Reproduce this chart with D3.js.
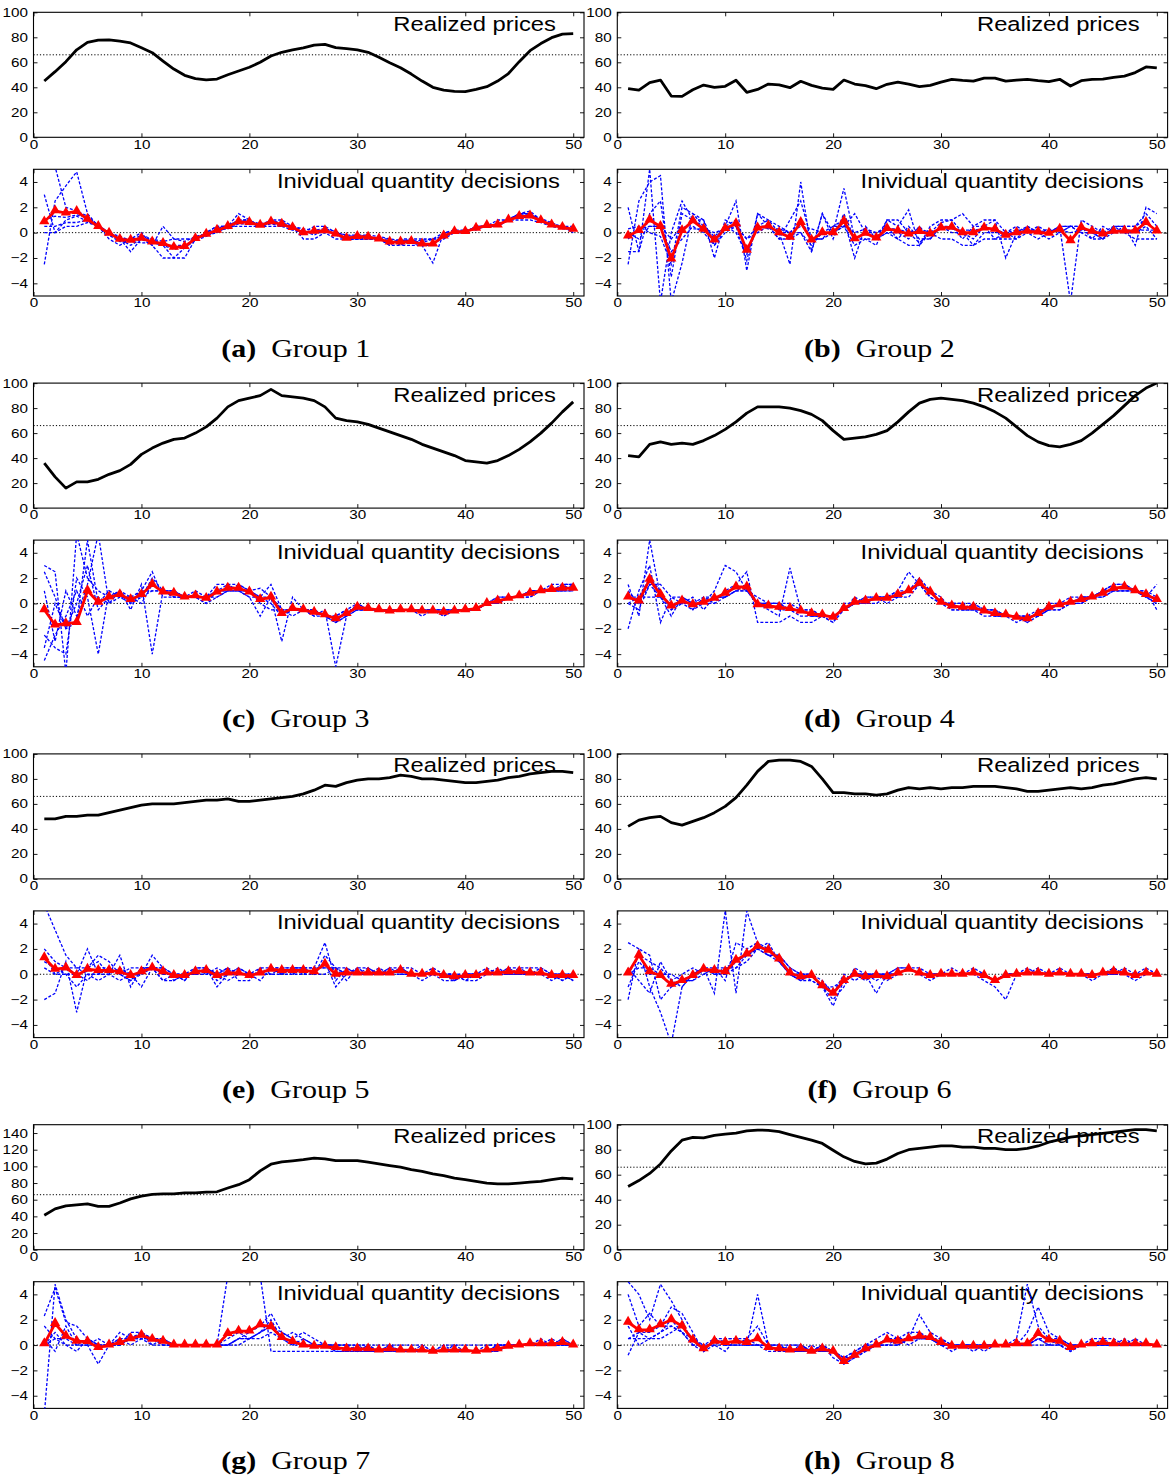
<!DOCTYPE html>
<html>
<head>
<meta charset="utf-8">
<script src="https://cdn.jsdelivr.net/npm/d3@7"></script>
<style>
  body { margin: 0; background: #fff; }
</style>
</head>
<body>
<svg id="fig" width="1175" height="1476"></svg>
<script>
// periods, ticks and reference level
const periods = d3.range(1, 51);
const equilibriumPrice = 66;
const timeTicks = [0, 10, 20, 30, 40, 50];
const priceTicks = [0, 20, 40, 60, 80, 100];
const priceTicksWide = [0, 20, 40, 60, 80, 100, 120, 140];
const quantityTicks = [-4, -2, 0, 2, 4];
const captionLetters = ["(a)", "(b)", "(c)", "(d)", "(e)", "(f)", "(g)", "(h)"];
const groupNames = ["Group 1", "Group 2", "Group 3", "Group 4", "Group 5", "Group 6", "Group 7", "Group 8"];

// realized prices per group
const price1 = [45,52.5,60.5,70,76,77.8,78,77,75.5,71.7, 67.7,61,54.6,49.6,47,46,46.6,50,53,56, 60,65,68,70,71.5,73.8,74.4,71.7,71,70, 68,64,59.7,55.7,50.6,45,40,37.8,36.8,36.6, 38.4,40.5,45,51,60.5,69.3,75,79.7,82.6,82.9];
const price2 = [39,37.8,43.7,45.8,33,32.7,38,41.8,40,40.8, 45.6,36,38.3,42.6,42,39.7,44.8,41.5,39.4,38.3, 45.8,42.6,41.3,38.9,42.4,44.2,42.6,40.5,41.5,44.2, 46.4,45.6,45,47.4,47.4,45,45.8,46.4,45.3,44.5, 46.4,41,45.3,46.4,46.6,48,49,51.8,56.3,55.5];
const price3 = [36,25,16,21,21,23,27,30,35,43, 48,52,55,56,60,65,72,81,86,88, 90,95,90,89,88,86,81,72,70,69, 67,64,61,58,55,51,48,45,42,38, 37,36,38,42,47,53,60,68,77,85];
const price4 = [42,41,51,53,51,52,51,54,58,63, 69,76,81,81,81,80,78,75,70,62, 55,56,57,59,62,69,77,84,87,88, 87,86,84,81,77,72,65,58,53,50, 49,51,54,60,67,74,82,90,96,100];
const price5 = [48,48,50,50,51,51,53,55,57,59, 60,60,60,61,62,63,63,64,62,62, 63,64,65,66,68,71,75,74,77,79, 80,80,81,83,82,80,80,79,78,77, 77,78,79,81,82,84,85,86,86,85];
const price6 = [42,47,49,50,45,43,46,49,53,58, 65,75,86,94,95,95,94,90,80,69, 69,68,68,67,68,71,73,72,73,72, 73,73,74,74,74,73,72,70,70,71, 72,73,72,73,75,76,78,80,81,80];
const price7 = [41.4,49,52.5,53.7,55,52,52,56,61,64.3, 66.3,67,67,68.3,68.3,69,69.5,74,78,84, 94.6,102.6,105.3,106.7,108,110,109,107,107,107, 105,103,101,99,96,94,91,89,86,84, 82,80,79,79,80,81,82,84,86,85];
const price8 = [50.5,55.3,61,68.6,79,87.6,89.8,89.5,91.4,92.5, 93.3,95,95.7,95.5,94.4,92,89.8,87.6,85,79.6, 74.3,70.6,68.6,69.3,72.5,77,80,81,82,83, 83,82,82,81,81,80,80,81,83,86, 88,90,91,92,93,94,95,96,96,95];

// mean quantity decision (red, triangles)
const mean1 = [0.85,1.72,1.54,1.67,1.06,0.48,-0.05,-0.53,-0.6,-0.45, -0.74,-0.85,-1.16,-1.1,-0.47,-0.13,0.19,0.48,0.85,0.8, 0.58,0.85,0.66,0.4,0,0.1,0.15,-0.1,-0.45,-0.3, -0.35,-0.5,-0.74,-0.74,-0.7,-0.9,-0.9,-0.26,0.08,0.08, 0.35,0.56,0.6,1.0,1.27,1.32,0.95,0.6,0.42,0.27];
const mean2 = [-0.27,0.16,1.0,0.48,-2.08,0.16,0.93,0.27,-0.59,0.32, 0.7,-1.39,0.37,0.53,0,-0.37,0.8,-0.59,0,0, 0.9,-0.48,-0.05,-0.43,0.32,0.13,-0.1,0.08,-0.1,0.37, 0.43,0,0,0.37,0.27,-0.21,0,0.1,0.05,-0.05, 0.27,-0.64,0.4,0.1,-0.1,0.1,0.13,0.13,0.8,0.13];
const mean3 = [-0.5,-1.7,-1.6,-1.5,1.0,0.1,0.5,0.7,0.3,0.7, 1.5,0.9,0.8,0.5,0.6,0.4,0.9,1.2,1.2,0.9, 0.3,0.5,-0.8,-0.4,-0.5,-0.7,-0.9,-1.2,-0.8,-0.3, -0.4,-0.5,-0.6,-0.5,-0.5,-0.6,-0.6,-0.7,-0.6,-0.5, -0.4,0,0.2,0.4,0.6,0.8,1.0,1.1,1.2,1.2];
const mean4 = [0.5,0.2,1.9,0.7,-0.2,0.2,-0.1,0.1,0.4,0.8, 1.3,1.3,-0.1,-0.2,-0.3,-0.4,-0.6,-0.8,-0.9,-1.1, -0.4,0.1,0.2,0.4,0.4,0.7,1.0,1.6,0.9,0.1, -0.2,-0.3,-0.3,-0.6,-0.8,-0.9,-1.1,-1.2,-0.8,-0.3, -0.1,0.1,0.3,0.5,0.8,1.2,1.3,1.0,0.7,0.3];
const mean5 = [1.3,0.4,0.5,-0.1,0.4,0.3,0.3,0.2,-0.1,0.2, 0.5,0.2,-0.1,-0.1,0.2,0.3,-0.1,0.1,0.1,-0.1, 0.1,0.4,0.3,0.3,0.3,0.2,0.8,0,0.1,0.1, 0.1,0.1,0.1,0.3,0,0,0.1,-0.1,-0.2,-0.1, -0.1,0.1,0.1,0.2,0.2,0.1,0.1,-0.1,-0.1,-0.1];
const mean6 = [0.1,1.5,0.2,-0.1,-0.8,-0.5,-0.1,0.4,0.3,0.2, 1.1,1.6,2.2,1.9,1.2,0.1,-0.2,-0.1,-0.9,-1.5, -0.5,0,-0.2,-0.1,-0.2,0.1,0.4,0.1,-0.1,0, 0,0,0.1,-0.1,-0.5,-0.1,0,0.1,0.1,0, 0.1,0,0,-0.1,0.1,0.2,0.1,-0.1,0.1,0];
const mean7 = [0.1,1.7,0.7,0.3,0.27,-0.2,0,0.2,0.5,0.77, 0.45,0.3,0,0,0,0,0,0.9,1.1,1.1, 1.6,1.45,0.6,0.27,0,-0.1,-0.1,-0.2,-0.3,-0.3, -0.3,-0.4,-0.3,-0.4,-0.4,-0.4,-0.5,-0.4,-0.4,-0.4, -0.5,-0.4,-0.3,-0.1,0,0.1,0.1,0.1,0.2,0];
const mean8 = [1.8,1.2,1.2,1.6,2.0,1.5,0.4,-0.3,0.3,0.2, 0.3,0.2,0.5,-0.2,-0.3,-0.4,-0.3,-0.5,-0.3,-0.5, -1.3,-0.8,-0.3,0,0.4,0.3,0.5,0.7,0.6,0.2, -0.1,-0.1,-0.1,-0.1,0,0,0.1,0.1,0.9,0.4, 0.3,-0.2,0,0.1,0.2,0.1,0.1,0.1,0.1,0];

// individual quantity decisions (blue dashed), six subjects per group
const indiv1 = [
  [3,0,0.5,0.5,0.8,0.5,0,-0.5,-1.5,-0.5, -0.5,-1,-1,-1,-0.5,0,0.5,0.5,1,1, 0.5,1,0.5,0.5,0,0,0,-0.5,-0.5,-0.5, -0.5,-0.5,-1,-0.5,-0.5,-1,-1,0,0,0, 0.5,0.5,0.5,1,1.5,1.5,1,0.5,0.5,0.5],
  [-2.5,2.5,3.7,4.8,1.5,0.5,0,-0.5,-1,-0.5, -1,0.5,-0.5,-0.5,-0.5,0,0.5,0.5,1,1, 0.5,1,1,0.5,0,0.5,0.5,0,-0.5,-0.5, -0.5,-0.5,-0.5,-1,-1,-1,-2.4,0,0,0, 0.5,0.5,1,1,1.5,1.5,1,0.5,0.5,0],
  [5.5,5.2,2,1.7,1.3,0.5,-0.5,-1,-0.5,-0.5, -0.5,-1,-2,-2,-0.5,0,0,0.5,1.5,1, 0.5,0.5,0.5,0.5,-0.5,-0.5,0,0,-0.5,-0.5, -0.5,-0.5,-1,-1,-0.5,-0.5,-0.5,-0.5,0,0, 0.5,0.5,0.5,1,1.5,1.7,1,0.5,0.5,0],
  [0,0,1,1.3,0.9,0.5,0,-0.5,-0.5,0, -1,-2,-2,-1.2,-0.5,-0.2,0,0.5,0.5,0.5, 0.5,0.7,0.5,0.2,0,0,0.2,0,-0.2,-0.2, -0.3,-0.5,-0.7,-0.6,-0.7,-0.6,-0.5,-0.3,0,0.2, 0.2,0.6,0.6,1,1,1,0.8,0.5,0.3,0.3],
  [0.5,0.5,0.8,0.8,1,0.5,-0.2,-0.7,-0.7,-0.8, -0.8,-1,-1.3,-1.2,-0.6,-0.3,0.2,0.3,0.7,0.7, 0.5,0.8,0.6,0.5,0.2,-0.2,0.3,-0.2,-0.5,-0.3, -0.3,-0.5,-0.8,-0.8,-0.8,-1,-1,-0.3,0.1,0.1, 0.3,0.5,0.6,1,1.2,1.2,1,0.7,0.5,0.2],
  [1,1.3,1.2,1.4,1.2,0.6,0,-0.3,-0.6,-0.2, -0.5,-0.7,-0.5,-0.7,-0.3,-0.1,0.3,0.6,0.9,0.9, 0.7,0.9,0.8,0.5,0.3,0.2,0.3,0.1,-0.3,-0.2, -0.2,-0.3,-0.5,-0.6,-0.6,-0.8,-0.5,0,0.2,0.2, 0.4,0.6,0.7,1.1,1.4,1.4,1.1,0.8,0.4,0.4]
];
const indiv2 = [
  [2,-1.5,5,-5.5,0,2.5,1,0.5,-0.5,0.5, 2.5,-3,1.5,1,0,-2.5,4,-1.5,1.5,0, 3.5,-0.5,-0.5,-1,1,0.5,1.8,-1,0.5,1, 1,1.5,0.5,1,1,-2,0,0.5,0,0, 0.5,-5.5,1,0.5,0,0.5,0.5,-1,2,1.5],
  [-2.5,2.5,4,4.5,-5.5,-2.4,1.5,1,-2,1, 0.5,-2.2,1.5,0.5,-0.5,1,2.5,-0.5,-0.5,0.5, 1,-2,0.5,-0.5,1,1,0,-0.8,0,0.8, 1,0,-0.5,0.5,1,0,-0.5,0,0.5,0, 0.5,0.5,0.5,0,-0.5,0.5,0.5,0.5,1.5,0.5],
  [-1.5,-1.5,1.5,2.5,-3.5,1.5,1,1,-1,0.5, 0,-1.7,0.5,0.5,0,0,0,-1.5,1.5,-0.5, 1.5,-0.5,0,0,0.5,-0.5,0.5,-0.5,-0.5,0.5, 0.5,-0.5,0.5,0.5,-0.5,-0.5,-0.5,0.5,0,-0.5, 0,0.5,0,-0.5,0.5,0,0.5,0.5,1,0],
  [0.3,0.5,0,-0.3,-2.5,2,1.5,0.5,-0.3,0.5, 1,-1.5,0.5,1,0.5,0,1,-0.5,-0.5,0, 0.5,-1,-0.5,-0.5,0,0,-0.5,0.5,-0.5,0.5, 0,0,-1,0,0,0,0,0,-0.5,0, 0.5,0.5,0,0,-0.5,0,0,0,0.5,-0.5],
  [0,-0.5,0.5,0.5,-1.5,-0.5,0.5,0,-1,0, 0.5,-0.5,0,0.5,-0.5,-0.5,0,-1,0,0.5, 0.5,1.5,0,-0.5,0,-0.5,-1,-1,0,-0.5, -0.5,-1,-1,-0.5,-0.5,0,0.5,0,0,0.3, 0,0.5,0.5,-0.5,-0.5,0.5,0,-0.5,-0.5,-0.5],
  [-0.5,0.3,0.5,0.5,-0.5,0.5,0.3,0.3,0,0.3, 0.5,-0.5,0.5,0.3,0.3,0,0.5,0.3,0,0, 0.5,0,0.3,0,0.3,0.3,0,0.3,0,0.3, 0.3,0.2,0.2,0.3,0.2,0,0.2,0.2,0.2,0, 0.2,0,0.2,0.2,0,0.2,0.2,0.2,0.2,0.2]
];
const indiv3 = [
  [3,2.5,-5.5,5.5,2,1,0.5,1,0,1, 1,1,1,0.5,1,0.5,1.5,1.5,1,1, 0.5,1.5,-0.5,-0.5,-0.5,-0.5,-1,-1,-0.5,-0.5, -0.5,-0.5,-0.5,-0.5,-0.5,-0.5,-0.5,-0.5,-0.5,-0.5, -0.5,0,0.5,0.5,0.5,1,1,1,1.5,1.5],
  [1,-3,1,-1,1.5,5.5,0,1,-0.5,1.5, -4,1,1,0.5,0.5,0,1,1,1.5,1, 1.2,0.5,-3,0.5,-0.5,-1,-0.5,-5,-1,0, -0.5,-0.5,-0.5,-0.5,-0.5,-1,-0.5,-1,-0.5,-0.5, -0.5,0,0,0.5,0.5,1,1,1,1.5,1],
  [-2.5,-3.5,-4,2,0.5,-4,1,0.5,0.5,1, 2.5,0.5,0.5,0.5,0.5,0.5,1,1.5,1.5,1, 0,-0.5,-0.5,-1,-0.5,-0.5,-1,-1.5,-1,-0.5, -0.5,-0.5,-0.5,-0.5,-0.5,-0.5,-0.5,-0.5,-0.5,-0.5, -0.5,0,0.5,0.5,0.5,0.5,1,1,1,1],
  [-3.5,0,-2,-1.5,5,0,1,0.5,0,0.5, 1,1,0.5,0.5,0.5,0.5,0.5,1,1,0.5, -1,0.5,-0.5,-0.5,-0.5,-1,-1,-1.5,-1,-0.5, -0.5,-0.5,-0.5,-0.5,-0.5,-0.5,-0.5,-0.5,-0.5,-0.5, -0.5,0,0,0.5,0.5,1,1,1,1,1.5],
  [-4.5,-2.5,-1,1,-1,0.5,0,0.5,0.5,0.5, 2,1,1,0.5,0.5,0.5,1,1,1,1, 0.5,0.5,-0.5,-0.5,-0.5,-0.5,-1,-1,-0.5,-0.5, -0.5,-0.5,-0.7,-0.5,-0.5,-0.5,-0.7,-0.7,-0.5,-0.5, -0.5,0,0,0.5,0.5,1,1,1,1,1],
  [2.5,0.5,-2,0,3,-0.5,0.5,1,0.5,0, 1.5,1,0.5,0.5,0.5,0,0.5,1,1,0.5, 0.5,0,-1,-0.5,-0.5,-0.5,-1,-1.5,-0.5,0, -0.5,-0.5,-0.5,-0.5,-0.5,-0.5,-0.5,-1,-0.5,-0.5, -0.5,0,0,0.5,0.5,0.5,1,1.5,1.5,1.5]
];
const indiv4 = [
  [1.5,-1,5,0.5,-1,0.5,0,0,1,3, 2.5,1,0,-0.5,-1,2.8,-0.5,-1,-1,-1, -0.5,0,0,0.5,0.5,1,2.5,1.5,0.5,0, 0,-0.5,-0.5,-0.5,-1,-1,-1,-1.5,-0.5,-0.5, 0,0,0.5,0.5,1,1.5,1.5,1,0.5,1.5],
  [-2,1,3,-1.5,0.5,0,-0.5,0.5,0,0.5, 1.5,2.5,-1.5,-1.5,-1.5,-1,-1.5,-1.5,-1,-1, -0.5,0,0.5,0.5,0,0.5,1,2,1,0, 0,0,0,-0.5,-0.5,-1,-1.5,-1,-1,-0.5, 0,0,0,0.5,0.5,1,1,1,1,-0.5],
  [0,0.5,2,1,-0.5,0,0.5,-0.5,0.5,0.5, 1,1,0,0,0,-0.5,-0.5,-0.5,-1,-1.5, -0.5,0,0,0.5,0.5,1,1,1.5,1,0, -0.5,-0.5,-0.5,-1,-1,-1,-1,-1,-1,0, 0,0,0.5,0.5,1,1.5,1.5,1,0.5,0.5],
  [1,0,1.5,1.5,0.5,0.5,-0.5,0,0,1, 1.5,1,0,0,-0.5,-0.5,-1,-1,-1,-1, -0.5,0.5,0,0.5,0.5,0.5,1,1.5,1,0, 0,-0.5,-0.5,-0.5,-1,-1,-1,-1.5,-1,-0.5, -0.5,0,0.5,0.5,1,1,1.5,1,1,0.5],
  [0.5,0.5,0.5,0.5,-0.5,0.5,0,0,0.5,0.5, 1,1,0.5,0,0,-0.5,-0.5,-1,-1,-1, -0.5,0,0.5,0.5,0.5,0.5,1,1.5,1,0.5, -0.5,-0.5,0,-0.5,-0.5,-1,-1,-1,-0.5,-0.5, 0,0.5,0.5,0.5,1,1,1,1,0.5,0],
  [0,-0.5,1.5,0.5,0,0,0,0.5,0.5,0.5, 1,1.5,0,0,0,0,-0.5,-0.5,-1,-1.5, 0,0,0,0,0.5,0.5,0.5,1.5,0.5,0, 0,0,-0.5,-0.5,-0.5,-1,-1,-1,-1,-0.5, -0.5,0,0,0.5,0.5,1,1,1,0.5,0]
];
const indiv5 = [
  [5.5,3.5,1.5,0.5,0.5,1.5,1,0,-0.5,0, 1.5,0.5,0,-0.5,0.5,0.5,-0.5,0,0.5,0, 0,0.5,0.5,0.5,0.5,0.5,2.5,-0.5,0.5,0, 0,0,0.5,0.5,0,0,0.5,0,-0.5,0, 0,0,0,0.5,0.5,0,0,0,0,-0.5],
  [-2,-1.5,1,-3,0.5,1,0,1.5,-1,0.5, 0.5,-0.5,-0.5,0,0,0.5,0,0.5,-0.5,-0.5, 0.5,0.5,0.5,0,0.5,0,1.5,0.5,0,0.5, 0,0.5,0,0.5,0.5,0,0,-0.5,-0.5,0, 0,0,0.5,0,0.5,0.5,0.5,0,-0.5,0],
  [2,1,0.5,0,2,0,0.5,0,0.5,0.5, 0.5,0.5,0,-0.5,0.5,0.5,-1,0,0.5,0, -0.5,0.5,0,0.5,0.5,0,1,-1,0,0, 0.5,0,0,0.5,0,-0.5,0,0,0,-0.5, -0.5,0,0,0.5,0,0,0,-0.5,0,-0.5],
  [1,0.5,0,-1,0,-0.5,0,-0.5,0,-1, 0.5,0,0,0,0,0,0,-0.5,0,0, 0,0,0.5,0.5,0,0,0,0.5,-0.5,0.5, 0.5,0,0,0.5,0,0,0,0,0,-0.5, 0,0.5,0,0,0,0,0.5,0,0,0],
  [0.5,0,0.5,0.5,0,0,0,0.5,0,0, 0.5,0.5,-0.5,0,0,0.5,0,0.5,0,0, 0,0.5,0,0,0,0.5,0.5,0.5,0,0, 0,0,0,0,0,0,0,0,-0.5,0, 0,0,0,0,0,0,0,0,0,0],
  [1.5,0,0,0,-0.5,0.5,0.5,0,-0.5,0.5, 0.5,-0.5,0,0,0.5,0,0.5,0,0,0, 0.5,0,0,0.5,0.5,0.5,0.5,0.5,0.5,0, 0,0,0.5,0,0,0,0,0,0,0, 0,0,0,0,0,0,0,0,-0.5,0]
];
const indiv6 = [
  [2.5,2,-1,-3,-5.5,-1,0,0.5,-1.5,5, -1.5,5,2.5,2,1,0,-0.5,-0.5,-1,-2.5, -0.5,0,-0.5,0,-0.5,0,0.5,0,-0.5,0, 0,0,0,0,-0.5,0,0,0,0,0, 0,0,0,-0.5,0,0.5,0,-0.5,0,0],
  [-2,2,1.5,-2,-1,-0.5,-0.5,0.5,0.5,-0.5, 2.5,2,2.5,1.5,1.5,0.5,0,0,-1,-2, -1,0.5,0,-0.5,0,0.5,0.5,0,0,0, 0.5,0,0,-0.5,-1,-2,0,0,0,0, 0.5,0,0,0,0,0,0.5,0,0,0],
  [0.5,-0.5,-1.5,1,-0.5,-1,0,0.5,0,0.5, 1,1.5,2,2,1,0,-0.5,0,-0.5,-1.5, 0,-0.5,0,-1.5,0,0,0.5,0.5,0,0, 0,0,0,0,-0.5,0,0,0.5,0,0, 0,0,0,0,0,0,0,0,0.5,0],
  [0,1.5,1,0.5,-0.5,0,0.5,0,0.5,0.5, 0.5,1,2,2.5,1,0,0,-0.5,-1,-1, -0.5,0,0,0,0,0,0.5,0,0,0, 0,0,0.5,0,-0.5,0,0,0,0.5,0, 0,0,0,0,0,0.5,0,0,0,0],
  [-1,1,0,0,0,-0.5,0,0.5,0,0, 1,1.5,2,1.5,1.5,0.5,0,0,-1,-1.5, -0.5,0,0,0,0,0,0.5,0,0,0, 0,0,0,0,-0.5,0,0,0,0,0, 0,0,0,0,0,0,0,0,0,0],
  [0,0.5,0.5,0,-1,-0.5,-0.5,0,0.5,0, 0.5,1.5,2,1.5,1,0,-0.5,0,-1,-1.5, -0.5,0,0,0,0,0.5,0.5,0,0,0, 0,0,0,0,-0.5,0,0,0,0,0, 0,0,0,0,0,0,0,0,0,0]
];
const indiv7 = [
  [-5.5,4.8,2,0.5,0,-1.5,0,0,0.5,1, 0.5,0.5,0,0,0,0,0,5.5,5.5,5.5, 5.5,-0.5,-0.5,-0.5,-0.5,-0.5,-0.5,-0.5,-0.5,-0.5, -0.5,-0.5,-0.5,-0.5,-0.5,-0.5,-0.5,-0.5,-0.5,-0.5, -0.5,-0.5,-0.5,0,0,0,0,0,0.5,0],
  [2.3,4.5,1.8,1.5,0.5,0,0,0.5,0.5,1, 0.5,0.5,0,0,0,0,0,0,0.5,1, 1.5,2.5,1,0.5,0,0,0,-0.5,-0.5,-0.5, -0.5,-0.5,-0.5,-0.5,-0.5,-0.5,-0.5,-0.5,-0.5,-0.5, -0.5,-0.5,-0.5,0,0,0,0.5,0,0,0],
  [1.5,0.5,0,-0.5,0.5,0,0,1,0.5,0.5, 0.5,0,0,0,0,0,0,0.5,1,0.5, 1,2,0.5,1,0.5,0,0,0,-0.5,0, -0.5,-0.5,0,-0.5,-0.5,-0.5,-0.5,-0.5,0,-0.5, -0.5,0,0,0,0,0,0,0,0.5,0],
  [0.5,-0.5,1.5,0,0.5,0,0,0,1,1, 0,0.5,0,0,0,0,0,0,0.5,0.5, 1,1.5,1,0.5,1,0.5,0,0,0,0, 0,-0.5,-0.5,-0.5,-0.5,-0.5,-0.5,-0.5,-0.5,-0.5, -0.5,-0.5,0,0,0,0,0,0,0,0],
  [0,1,0,0,0,0.5,0,0.5,0,0.5, 0.5,0,0,0,0,0,0,0,0.5,0.5, 1,1.5,0.5,0,0.5,0,0,0,0,-0.5, 0,0,0,-0.5,-0.5,0,-0.5,0,-0.5,-0.5, -0.5,-0.5,0,0,0,0,0,0.5,0,0],
  [0,0.5,0.5,0,0,0,0,0,0.5,0.5, 0,0,0,0,0,0,0,0,0,0.5, 0.5,1,0.5,0,0,0,0,0,0,0, 0,-0.5,0,0,0,0,-0.5,0,0,0, 0,0,0,0,0,0,0,0,0,0]
];
const indiv8 = [
  [5,4,2,4.8,3.5,2,0,0,0,-0.5, 0.5,0,4,0,-0.5,0,0,-0.5,0,-1, -1.5,-1,0,0.5,1,0.5,0.5,2.4,1,0.5, 0,0,0,0,0,0,0.5,4.8,1.5,0.5, 0.5,0,0,0.5,0.5,0.5,0,0,0,0],
  [4,1.5,2.5,1.5,3,2.5,1,-0.5,0.5,0, 0,0.5,1.5,0,0,-0.5,-0.5,0,-0.5,-0.5, -1.5,-1,-0.5,0,0.5,0.5,1,1,0.5,0.5, 0,0,0,0,0,0,0,1,3,1, 0.5,0,0,0,0,0,0,0,0,0],
  [0.5,1,0.5,1,2,1,0,0,0.5,0.5, 0.5,0,0,-0.5,-0.5,-0.5,0,-0.5,-0.5,-0.5, -1,-0.5,-0.5,0,0,0,0.5,0.5,0.5,0, 0,0,0,-0.5,0,0,0,0,0.5,0.5, 0,-0.5,0,0,0,0,0.5,0,0,0],
  [-0.8,1,1,1.5,1.5,1,0,-0.5,0,0.5, 0.5,0.5,0,0,-0.5,-0.5,-0.5,-0.5,0,-0.5, -1.5,-0.5,0,0,0.5,0,0.5,0.5,0.5,0, -0.5,0,-0.5,0,0,0,0,0,0.5,0, 0,-0.5,0,0,0,0,0,0,0,0],
  [1.5,0,0.5,1,1.5,1,0.5,-0.5,0.5,0, 0,0,0,0,0,-0.5,-0.5,-0.5,-0.5,-0.5, -1,-1,-0.5,0,0,0.5,0,0.5,0.5,0, 0,0,0,0,0,0,0,0,0.5,0, 0.5,0,0,0,0.5,0,0,0.5,0,0],
  [0.5,0.5,0.5,0.5,1,1.5,0.5,0,0,0, 0,0,0,0,0,0,0,-0.5,0,-0.5, -1,-0.5,0,0,0,0,0.5,0.5,0.5,0, 0,0,0,0,0,0,0,0,0,0, 0,0,0,0,0,0,0,0,0,0]
];

const groups = [
  { price: price1, mean: mean1, indiv: indiv1, pMax: 100, pTicks: priceTicks },
  { price: price2, mean: mean2, indiv: indiv2, pMax: 100, pTicks: priceTicks },
  { price: price3, mean: mean3, indiv: indiv3, pMax: 100, pTicks: priceTicks },
  { price: price4, mean: mean4, indiv: indiv4, pMax: 100, pTicks: priceTicks },
  { price: price5, mean: mean5, indiv: indiv5, pMax: 100, pTicks: priceTicks },
  { price: price6, mean: mean6, indiv: indiv6, pMax: 100, pTicks: priceTicks },
  { price: price7, mean: mean7, indiv: indiv7, pMax: 150, pTicks: priceTicksWide },
  { price: price8, mean: mean8, indiv: indiv8, pMax: 100, pTicks: priceTicks }
];

// layout
const COLS = [[33.5, 584], [617.3, 1167.6]];
const ROW_STEP = 370.8;
const PRICE_BOX = [12.3, 137.3];
const QTY_BOX = [169.3, 296];
const CAPTION_Y = 356.5;
const SX = 1.22;          // horizontal glyph stretch of the original figure
const SANS = "'Liberation Sans', Arial, Helvetica, sans-serif";
const SERIF = "'Liberation Serif', 'Times New Roman', serif";

const svg = d3.select("#fig");
let clipCount = 0;

function stretchText(sel) {
  sel.attr("transform", `scale(${SX},1)`);
}

// one boxed Matlab-style panel, returns scales and a clipped plotting layer
function makePanel(xr, yr, yDomain, yTicks, label, labelGap) {
  const x = d3.scaleLinear().domain([0, 51]).range(xr);
  const y = d3.scaleLinear().domain(yDomain).range([yr[1], yr[0]]);
  const g = svg.append("g");
  const id = "clip" + (clipCount++);

  g.append("clipPath").attr("id", id)
    .append("rect")
    .attr("x", xr[0]).attr("y", yr[0])
    .attr("width", xr[1] - xr[0]).attr("height", yr[1] - yr[0]);

  g.append("text")
    .attr("transform", `translate(${xr[1] - labelGap},${yr[0] + 18.5}) scale(${SX},1)`)
    .attr("text-anchor", "end")
    .attr("font-family", SANS)
    .attr("font-size", 19.5)
    .attr("fill", "#000")
    .text(label);

  const styleAxis = (a) => {
    a.select(".domain").remove();
    a.attr("font-family", SANS).attr("font-size", 12.5);
    a.selectAll("line").attr("stroke", "#000").attr("stroke-width", 0.9);
    a.selectAll("text").attr("fill", "#000").call(stretchText);
  };

  g.append("g").attr("transform", `translate(0,${yr[1]})`)
    .call(d3.axisBottom(x).tickValues(timeTicks).tickSizeInner(-4).tickSizeOuter(0).tickPadding(2.5))
    .call(styleAxis);
  g.append("g").attr("transform", `translate(0,${yr[0]})`)
    .call(d3.axisTop(x).tickValues(timeTicks).tickSizeInner(-4).tickSizeOuter(0).tickFormat(""))
    .call(styleAxis);
  g.append("g").attr("transform", `translate(${xr[0]},0)`)
    .call(d3.axisLeft(y).tickValues(yTicks).tickSizeInner(-4).tickSizeOuter(0).tickPadding(4.5))
    .call(styleAxis);
  g.append("g").attr("transform", `translate(${xr[1]},0)`)
    .call(d3.axisRight(y).tickValues(yTicks).tickSizeInner(-4).tickSizeOuter(0).tickFormat(""))
    .call(styleAxis);

  g.append("rect")
    .attr("x", xr[0]).attr("y", yr[0])
    .attr("width", xr[1] - xr[0]).attr("height", yr[1] - yr[0])
    .attr("fill", "none").attr("stroke", "#000").attr("stroke-width", 1.1);

  const plot = g.append("g").attr("clip-path", `url(#${id})`);
  return { x, y, plot };
}

groups.forEach((grp, i) => {
  const col = i % 2;
  const row = Math.floor(i / 2);
  const xr = COLS[col];
  const off = row * ROW_STEP;

  // realized prices
  const pp = makePanel(xr, [PRICE_BOX[0] + off, PRICE_BOX[1] + off], [0, grp.pMax], grp.pTicks, "Realized prices", 28);
  pp.plot.append("line")
    .attr("x1", xr[0]).attr("x2", xr[1])
    .attr("y1", pp.y(equilibriumPrice)).attr("y2", pp.y(equilibriumPrice))
    .attr("stroke", "#000").attr("stroke-width", 1).attr("stroke-dasharray", "1.2,2");
  pp.plot.append("path")
    .datum(grp.price)
    .attr("fill", "none").attr("stroke", "#000").attr("stroke-width", 2.8)
    .attr("stroke-linejoin", "round")
    .attr("d", d3.line().x((d, k) => pp.x(periods[k])).y(d => pp.y(d)));

  // quantity decisions
  const qp = makePanel(xr, [QTY_BOX[0] + off, QTY_BOX[1] + off], [-5, 5], quantityTicks, "Inividual quantity decisions", 24);
  qp.plot.append("line")
    .attr("x1", xr[0]).attr("x2", xr[1])
    .attr("y1", qp.y(0)).attr("y2", qp.y(0))
    .attr("stroke", "#000").attr("stroke-width", 1).attr("stroke-dasharray", "1.2,2");
  const qLine = d3.line().x((d, k) => qp.x(periods[k])).y(d => qp.y(d));
  qp.plot.selectAll("path.indiv")
    .data(grp.indiv)
    .join("path")
    .attr("class", "indiv")
    .attr("fill", "none").attr("stroke", "#0000ff").attr("stroke-width", 1.3)
    .attr("stroke-dasharray", "3,1.8")
    .attr("d", qLine);
  qp.plot.append("path")
    .datum(grp.mean)
    .attr("fill", "none").attr("stroke", "#ff0000").attr("stroke-width", 2.8)
    .attr("stroke-linejoin", "round")
    .attr("d", qLine);
  qp.plot.selectAll("path.tri")
    .data(grp.mean)
    .join("path")
    .attr("class", "tri")
    .attr("fill", "#ff0000")
    .attr("transform", (d, k) => `translate(${qp.x(periods[k])},${qp.y(d) - 0.5})`)
    .attr("d", d3.symbol(d3.symbolTriangle, 46));

  // caption
  const cx = (xr[0] + xr[1]) / 2 - 13;
  const cap = svg.append("text")
    .attr("transform", `translate(${cx},${CAPTION_Y + off}) scale(1.2,1)`)
    .attr("text-anchor", "middle")
    .attr("font-family", SERIF)
    .attr("font-size", 25)
    .attr("fill", "#000");
  cap.append("tspan").attr("font-weight", "bold").text(captionLetters[i]);
  cap.append("tspan").text("\u2002" + groupNames[i]);
});
</script>
</body>
</html>
